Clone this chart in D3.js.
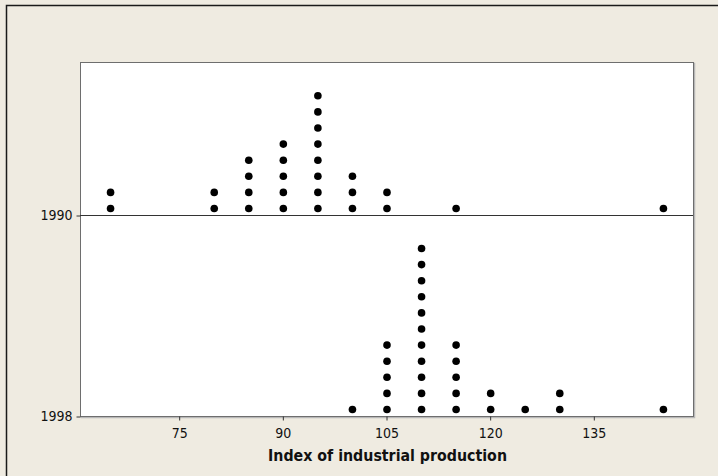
<!DOCTYPE html>
<html>
<head>
<meta charset="utf-8">
<script src="https://cdn.jsdelivr.net/npm/d3@7"></script>
<style>
  body { margin: 0; background: #efebe1; }
  svg { display: block; }
  .tick text { font-family: "DejaVu Sans Condensed", Tahoma, sans-serif; font-size: 14px; fill: #111; }
</style>
</head>
<body>
<svg id="chart" width="718" height="476"></svg>
<script>

// dot plot: counts of countries at each index value, per year
var years = ["1990", "1998"];

var values1990 = [65, 80, 85, 90, 95, 100, 105, 115, 145];
var counts1990 = [2, 2, 4, 5, 8, 3, 2, 1, 1];

var values1998 = [100, 105, 110, 115, 120, 125, 130, 145];
var counts1998 = [1, 5, 11, 5, 2, 1, 2, 1];

var xTicks = [75, 90, 105, 120, 135];
var xTitle = "Index of industrial production";

var W = 718, H = 476;
var margin = { left: 80, right: 25, top: 62, bottom: 60 };

var svg = d3.select("#chart");

// outer frame
svg.append("rect")
    .attr("x", 0).attr("y", 0)
    .attr("width", W).attr("height", H)
    .attr("fill", "#efebe1");
svg.append("path")
    .attr("d", "M6.5," + H + "V5.5H" + W)
    .attr("fill", "none")
    .attr("stroke", "#1a1a1a")
    .attr("stroke-width", 1.5);

var plotW = W - margin.left - margin.right;   // 613
var plotH = H - margin.top - margin.bottom;   // 354

var x = d3.scaleLinear()
    .domain([60.65, 149.35])
    .range([margin.left, margin.left + plotW]);

// each panel: baseline at its bottom
var step = 16.1;

var y = d3.scalePoint()
    .domain(years)
    .range([215, margin.top + plotH]);

// plot background + border
svg.append("rect")
    .attr("x", margin.left + 1.5).attr("y", margin.top + 1.5)
    .attr("width", plotW).attr("height", plotH)
    .attr("fill", "none")
    .attr("stroke", "#b8b8b8")
    .attr("stroke-width", 1.5);
svg.append("rect")
    .attr("x", margin.left + 0.5).attr("y", margin.top + 0.5)
    .attr("width", plotW).attr("height", plotH)
    .attr("fill", "#ffffff")
    .attr("stroke", "#6e6e6e")
    .attr("stroke-width", 1);

// separator / baseline for 1990
svg.append("line")
    .attr("x1", margin.left).attr("x2", margin.left + plotW)
    .attr("y1", y("1990") + 0.5).attr("y2", y("1990") + 0.5)
    .attr("stroke", "#333")
    .attr("stroke-width", 1);

// axes
var xAxis = d3.axisBottom(x).tickValues(xTicks).tickSize(4).tickPadding(8);
var gx = svg.append("g")
    .attr("transform", "translate(0," + (margin.top + plotH + 0.5) + ")")
    .call(xAxis);
gx.select(".domain").remove();
gx.selectAll(".tick line").attr("stroke", "#333");

var yAxis = d3.axisLeft(y).tickSize(4).tickPadding(4);
var gy = svg.append("g")
    .attr("transform", "translate(" + (margin.left + 0.5) + ",0.5)")
    .call(yAxis);
gy.select(".domain").remove();
gy.selectAll(".tick line").attr("stroke", "#333");

// build dots
function stack(year, vals, counts) {
    var out = [];
    for (var i = 0; i < vals.length; i++) {
        for (var k = 0; k < counts[i]; k++) {
            out.push({ year: year, value: vals[i], level: k });
        }
    }
    return out;
}
var dots = stack("1990", values1990, counts1990)
    .concat(stack("1998", values1998, counts1998));

svg.append("g").selectAll("circle")
    .data(dots)
    .enter()
    .append("circle")
    .attr("cx", function(d) { return x(d.value) + 0.5; })
    .attr("cy", function(d) { return y(d.year) - 6.5 - d.level * step; })
    .attr("r", 3.8)
    .attr("fill", "#000");

// axis title
svg.append("text")
    .attr("x", 387.5)
    .attr("y", 461)
    .attr("text-anchor", "middle")
    .attr("font-family", "'DejaVu Sans Condensed', Tahoma, sans-serif")
    .attr("font-weight", "bold")
    .attr("font-size", "15px")
    .attr("textLength", 239)
    .attr("lengthAdjust", "spacingAndGlyphs")
    .attr("fill", "#111")
    .text(xTitle);

</script>
</body>
</html>
